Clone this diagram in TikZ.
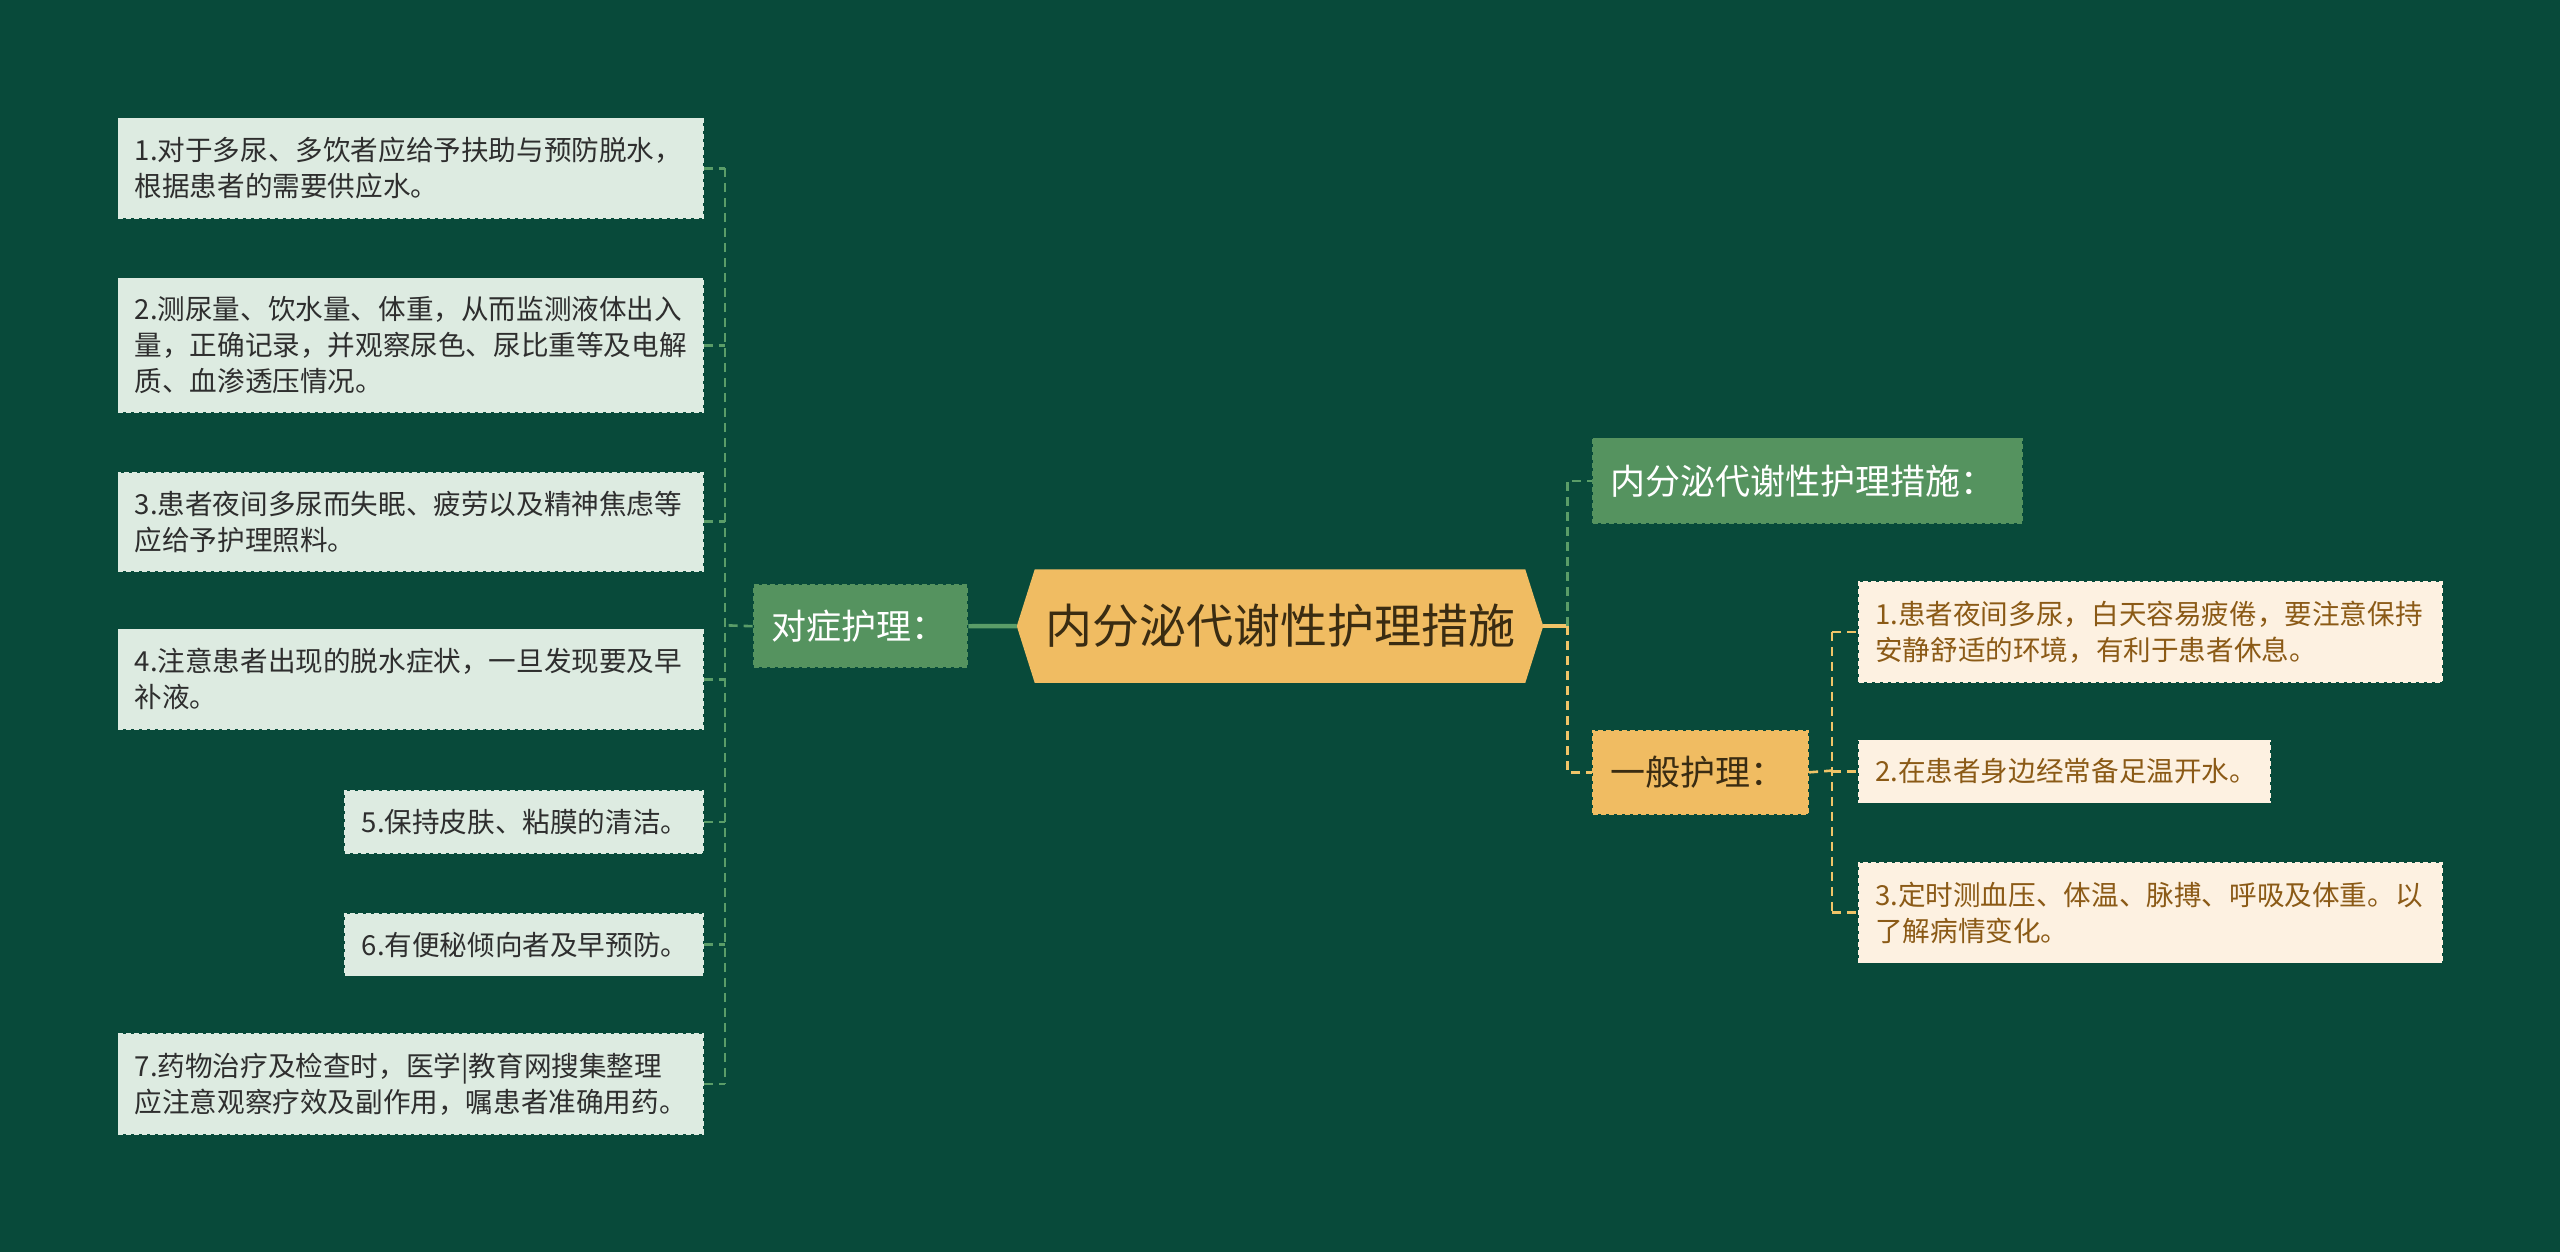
\documentclass[tikz,border=0pt]{standalone}
\usepackage{fontspec}
\newfontfamily\cjk{Noto Sans CJK SC}
\usetikzlibrary{calc,backgrounds}
\newdimen\uu \uu=0.8163pt
\definecolor{bgc}{HTML}{084A3A}
\definecolor{lfill}{HTML}{DDEBE1}
\definecolor{ltext}{HTML}{2E2E2E}
\definecolor{gfill}{HTML}{55935F}
\definecolor{gline}{HTML}{5A9D68}
\definecolor{hexfill}{HTML}{F0BC62}
\definecolor{hextext}{HTML}{3A2C12}
\definecolor{yline}{HTML}{F0C468}
\definecolor{rfill}{HTML}{FDF1E1}
\definecolor{rtext}{HTML}{8B5A16}
\tikzset{
  box/.style={anchor=north west, align=left, inner ysep=0pt, inner xsep=10\uu,
    dash pattern=on 2.5pt off 1.5pt, line width=0.9pt},
  lbox/.style={box, fill=lfill, draw=lfill, text=ltext, font=\cjk\fontsize{13.8}{18}\selectfont},
  rbox/.style={box, fill=rfill, draw=rfill, text=rtext, font=\cjk\fontsize{13.8}{18}\selectfont},
  gnode/.style={box, inner xsep=11\uu, fill=gfill, draw=gfill, text=white, font=\cjk\fontsize{17.5}{20}\selectfont},
  ynode/.style={box, inner xsep=11\uu, fill=hexfill, draw=hexfill, text=hextext, font=\cjk\fontsize{17.5}{20}\selectfont},
  gdash/.style={draw=gline, line width=1.3pt, dash pattern=on 4.5pt off 3pt},
  ydash/.style={draw=yline, line width=1.3pt, dash pattern=on 4.5pt off 3pt},
}
\begin{document}
\begin{tikzpicture}[x=\uu, y=-\uu]
\begin{scope}[on background layer]
\fill[bgc] (0,0) rectangle (1568,767);
\end{scope}
\useasboundingbox (0,0) rectangle (1568,767);

% root
\node[minimum width=322\uu, minimum height=69\uu, inner sep=0pt, text=hextext,
  font=\cjk\fontsize{23.5}{28}\selectfont] (root) at (784,383.5) {内分泌代谢性护理措施};
\begin{scope}[on background layer]
\fill[hexfill] (root.west) -- ([xshift=11\uu]root.north west) -- ([xshift=-11\uu]root.north east)
  -- (root.east) -- ([xshift=-11\uu]root.south east) -- ([xshift=11\uu]root.south west) -- cycle;
\end{scope}

% left branch
\node[gnode, text width=109\uu, minimum height=50\uu] (dz) at (461,358) {对症护理：};
\node[lbox, text width=338\uu, minimum height=61\uu] (L1) at (72,72) {1.对于多尿、多饮者应给予扶助与预防脱水，\\根据患者的需要供应水。};
\node[lbox, text width=338\uu, minimum height=82\uu] (L2) at (72,170) {2.测尿量、饮水量、体重，从而监测液体出入\\量，正确记录，并观察尿色、尿比重等及电解\\质、血渗透压情况。};
\node[lbox, text width=338\uu, minimum height=60\uu] (L3) at (72,289) {3.患者夜间多尿而失眠、疲劳以及精神焦虑等\\应给予护理照料。};
\node[lbox, text width=338\uu, minimum height=61\uu] (L4) at (72,385) {4.注意患者出现的脱水症状，一旦发现要及早\\补液。};
\node[lbox, text width=199\uu, minimum height=38\uu] (L5) at (211,484) {5.保持皮肤、粘膜的清洁。};
\node[lbox, text width=199\uu, minimum height=38\uu] (L6) at (211,559) {6.有便秘倾向者及早预防。};
\node[lbox, text width=338\uu, minimum height=61\uu] (L7) at (72,633) {7.药物治疗及检查时，医学|教育网搜集整理\\应注意观察疗效及副作用，嘱患者准确用药。};

% right branch
\node[gnode, text width=241\uu, minimum height=52\uu] (gm) at (975,268) {内分泌代谢性护理措施：};
\node[ynode, text width=110\uu, minimum height=51\uu] (yb) at (975,447) {一般护理：};
\node[rbox, text width=337\uu, minimum height=61\uu] (R1) at (1138,356) {1.患者夜间多尿，白天容易疲倦，要注意保持\\安静舒适的环境，有利于患者休息。};
\node[rbox, text width=232\uu, minimum height=38\uu] (R2) at (1138,453) {2.在患者身边经常备足温开水。};
\node[rbox, text width=337\uu, minimum height=61\uu] (R3) at (1138,528) {3.定时测血压、体温、脉搏、呼吸及体重。以\\了解病情变化。};

% connectors
\coordinate (lb) at (444,383);
\coordinate (rb) at (960,383.5);
\coordinate (sb) at (1122,472);

\draw[draw=gline, line width=2.2pt] (root.west) -- (dz.east);
\draw[gdash] (dz.west) -- (lb);
\draw[gdash] (lb |- L1.east) -- (lb |- L7.east);
\foreach \n in {L1,L2,L3,L4,L5,L6,L7} {
  \draw[gdash] (\n.east) -- (lb |- \n.east);
}

\draw[draw=yline, line width=2.2pt] (root.east) -- (rb);
\draw[gdash] (rb) -- (rb |- gm.west) -- (gm.west);
\draw[ydash] (rb) -- (rb |- yb.west) -- (yb.west);
\draw[ydash] (yb.east) -- (sb);
\draw[ydash] (sb |- R1.west) -- (sb |- R3.west);
\foreach \n in {R1,R2,R3} {
  \draw[ydash] (sb |- \n.west) -- (\n.west);
}
\end{tikzpicture}
\end{document}
